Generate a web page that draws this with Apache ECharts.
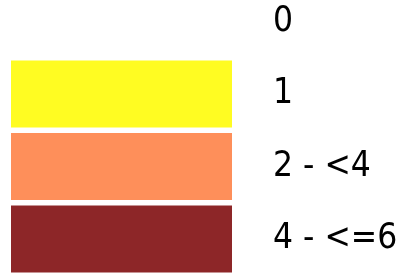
<!DOCTYPE html>
<html>
<head>
<meta charset="utf-8">
<script src="https://cdn.jsdelivr.net/npm/echarts@6/dist/echarts.min.js"></script>
<style>
html, body { margin: 0; padding: 0; background: #fff; }
#main { width: 410px; height: 280px; }
</style>
</head>
<body>
<div id="main"></div>
<script>
// legend classes (top to bottom)
var classLabels = ['0', '1', '2 - <4', '4 - <=6'];
var classMin = [0, 1, 2, 4];
var classMax = [0, 1, 4, 6];
var classColors = ['#ffffff', '#fffc22', '#fe8f5a', '#8d2628'];

(function () {
    var pieces = [];
    for (var i = 0; i < classLabels.length; i++) {
        var p = { label: classLabels[i], color: classColors[i] };
        if (classMin[i] === classMax[i]) {
            p.value = classMin[i];
        } else {
            p.gte = classMin[i];
            if (i === classLabels.length - 1) p.lte = classMax[i]; else p.lt = classMax[i];
        }
        pieces.push(p);
    }

    var chart = echarts.init(document.getElementById('main'));
    chart.setOption({
        animation: false,
        visualMap: {
            type: 'piecewise',
            orient: 'vertical',
            inverse: true,
            left: 11,
            top: -12,
            padding: 0,
            itemWidth: 221,
            itemHeight: 67,
            itemGap: 5.5,
            itemSymbol: 'rect',
            textGap: 41,
            selectedMode: false,
            showLabel: true,
            pieces: pieces,
            textStyle: {
                fontFamily: '"DejaVu Sans Condensed", "DejaVu Sans"',
                fontSize: 35,
                color: '#000'
            }
        }
    });
})();
</script>
</body>
</html>
